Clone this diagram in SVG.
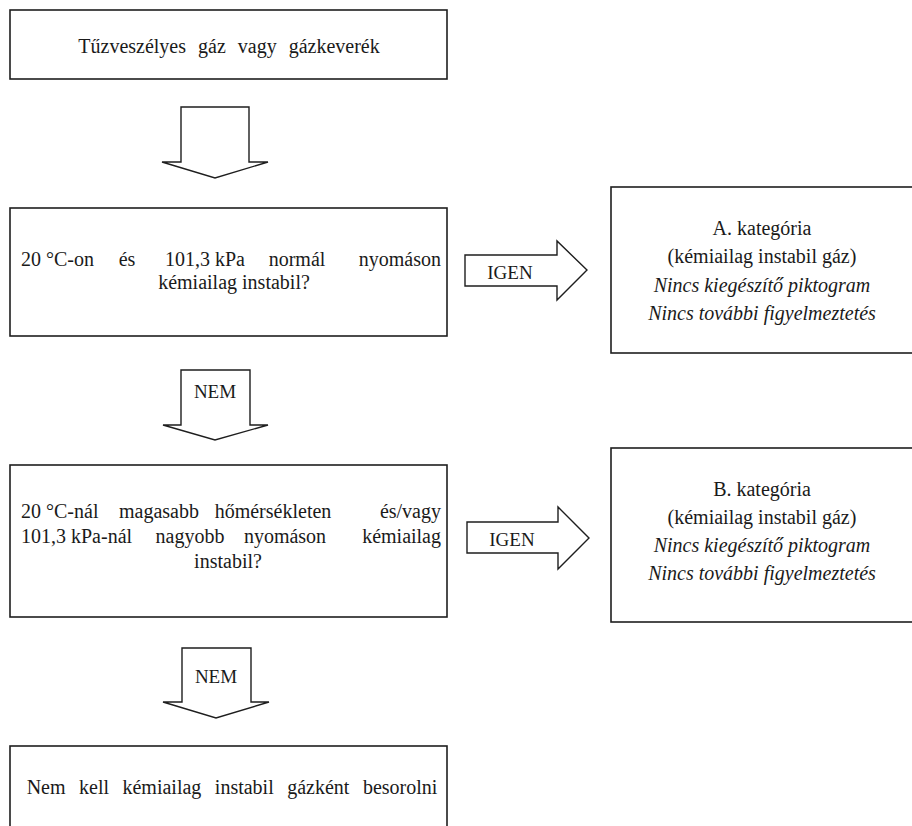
<svg xmlns="http://www.w3.org/2000/svg" width="912" height="826" viewBox="0 0 912 826">
<style>
  .box { fill: #fff; stroke: #1e1e1e; stroke-width: 1.6; }
  .arr { fill: #fff; stroke: #1e1e1e; stroke-width: 1.4; stroke-linejoin: miter; }
  text { font-family: "Liberation Serif", "DejaVu Serif", serif; font-size: 20px; fill: #1a1a1a; }
  .c { text-anchor: middle; }
  .e { text-anchor: end; }
  .i { font-style: italic; }
  .lbl { font-size: 19px; text-anchor: middle; }
</style>
<rect width="912" height="826" fill="#fff"/>

<g id="connectors">
  <polygon class="arr" points="181,107 249,107 249,162 268,162 215,178 162,162 181,162"/>
  <g id="yes1">
    <polygon class="arr" points="465,255 557,255 557,241 587,270 557,300 557,286 465,286"/>
    <text class="lbl" x="510" y="279">IGEN</text>
  </g>
  <g id="no1">
    <polygon class="arr" points="181,370 250,370 250,425 268,425 215,440 163,425 181,425"/>
    <text class="lbl" x="215" y="398">NEM</text>
  </g>
  <g id="yes2">
    <polygon class="arr" points="467,522 558,522 558,507 589,538 558,569 558,553 467,553"/>
    <text class="lbl" x="512" y="546">IGEN</text>
  </g>
  <g id="no2">
    <polygon class="arr" points="182,648 251,648 251,702 269,702 216,718 163,702 182,702"/>
    <text class="lbl" x="216" y="683">NEM</text>
  </g>
</g>

<g id="start">
  <rect class="box" x="10" y="10" width="437" height="69"/>
  <text class="c" x="229" y="53" style="word-spacing:7px">Tűzveszélyes gáz vagy gázkeverék</text>
</g>

<g id="q1">
  <rect class="box" x="10" y="208" width="437" height="128"/>
  <text x="21" y="266">20 °C-on</text>
  <text class="c" x="127" y="266">és</text>
  <text class="c" x="205" y="266">101,3 kPa</text>
  <text class="c" x="297" y="266">normál</text>
  <text class="e" x="441" y="266">nyomáson</text>
  <text class="c" x="234" y="289">kémiailag instabil?</text>
</g>

<g id="catA">
  <rect class="box" x="611" y="187" width="305" height="166"/>
  <text class="c" x="762" y="235">A. kategória</text>
  <text class="c" x="762" y="263">(kémiailag instabil gáz)</text>
  <text class="c i" x="762" y="292">Nincs kiegészítő piktogram</text>
  <text class="c i" x="762" y="320">Nincs további figyelmeztetés</text>
</g>

<g id="q2">
  <rect class="box" x="10" y="465" width="437" height="152"/>
  <text x="21" y="518">20 °C-nál</text>
  <text class="c" x="159" y="518">magasabb</text>
  <text class="c" x="273" y="518">hőmérsékleten</text>
  <text class="e" x="441" y="518">és/vagy</text>
  <text x="21" y="543">101,3 kPa-nál</text>
  <text class="c" x="190" y="543">nagyobb</text>
  <text class="c" x="285" y="543">nyomáson</text>
  <text class="e" x="441" y="543">kémiailag</text>
  <text class="c" x="228" y="568">instabil?</text>
</g>

<g id="catB">
  <rect class="box" x="611" y="448" width="305" height="174"/>
  <text class="c" x="762" y="496">B. kategória</text>
  <text class="c" x="762" y="524">(kémiailag instabil gáz)</text>
  <text class="c i" x="762" y="552">Nincs kiegészítő piktogram</text>
  <text class="c i" x="762" y="580">Nincs további figyelmeztetés</text>
</g>

<g id="end">
  <rect class="box" x="10" y="746" width="437" height="100"/>
  <text class="c" x="232" y="794" style="word-spacing:8.5px">Nem kell kémiailag instabil gázként besorolni</text>
</g>
</svg>
